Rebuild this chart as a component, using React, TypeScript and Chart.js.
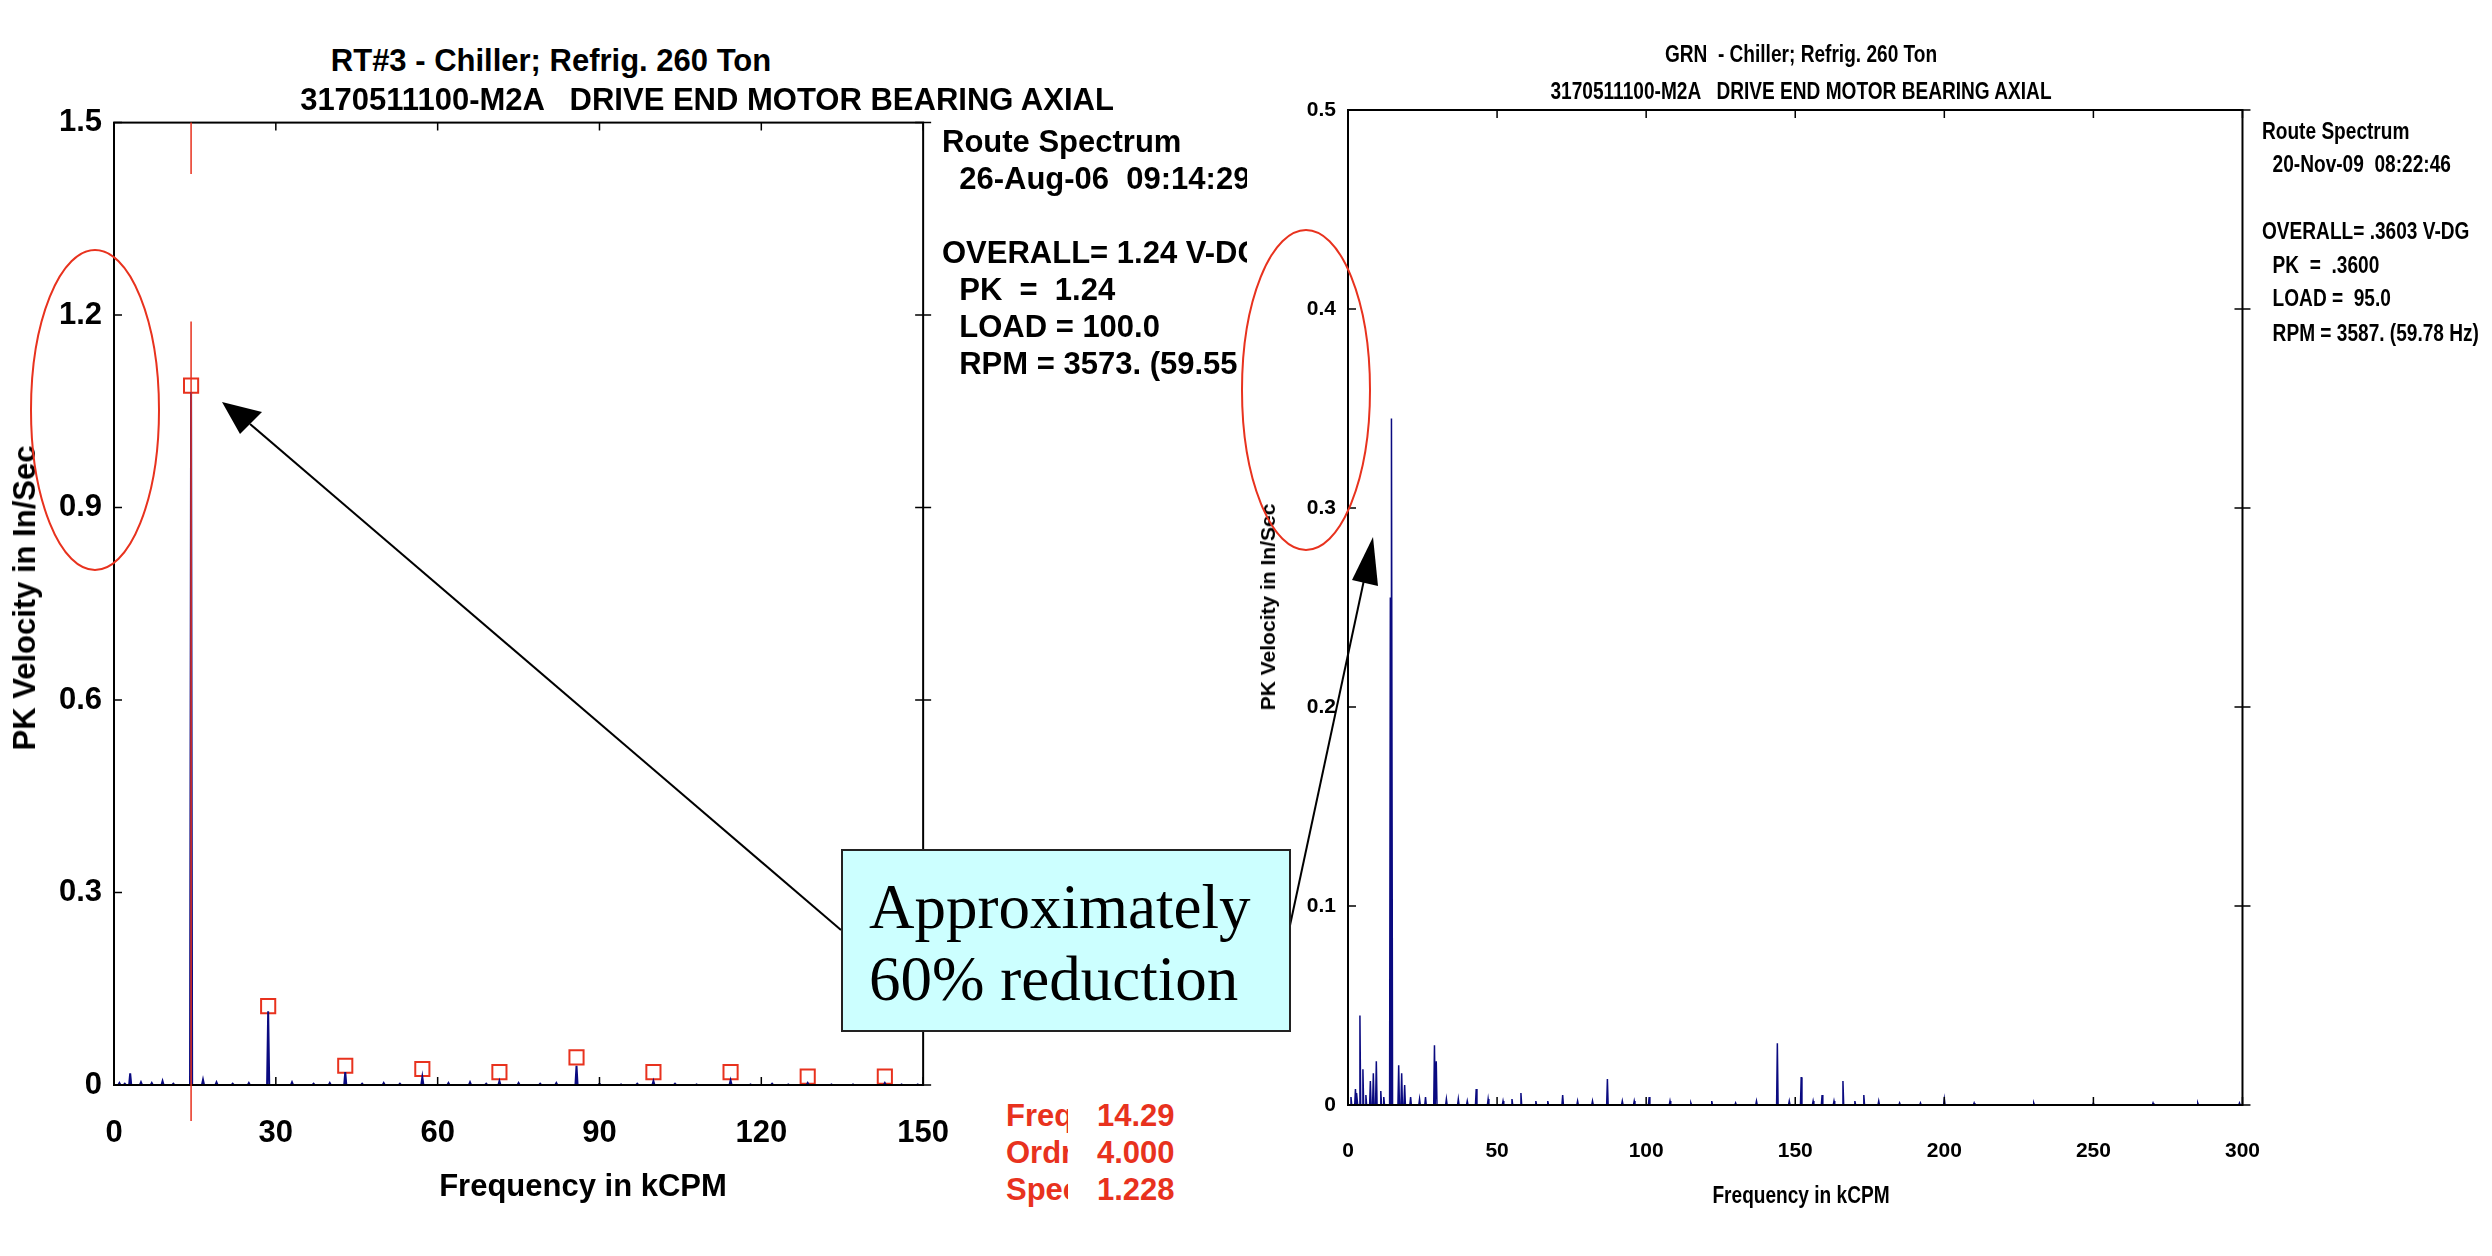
import React, { useEffect, useRef } from "react";
import { Chart, registerables } from "chart.js";
Chart.register(...registerables);

// Left chart (2006)
const leftSpikeFreq = [3.0, 14.29, 16.5, 28.58, 42.87, 57.16, 71.45, 85.74, 100.0, 114.3, 128.6, 142.9];
const leftSpikeAmp = [0.018, 1.08, 0.008, 0.115, 0.02, 0.012, 0.006, 0.03, 0.006, 0.007, 0.003, 0.003];
const leftNoiseFreq = [1, 2, 5, 7, 9, 11, 19, 22, 25, 33, 37, 40, 46, 50, 53, 62, 66, 69, 75, 79, 82, 90, 94, 97, 104, 108, 118, 122, 125, 133, 137, 146, 149];
const leftNoiseAmp = [0.003, 0.002, 0.004, 0.003, 0.006, 0.002, 0.004, 0.002, 0.003, 0.004, 0.002, 0.003, 0.002, 0.003, 0.002, 0.003, 0.004, 0.002, 0.003, 0.002, 0.003, 0.002, 0.001, 0.002, 0.002, 0.001, 0.001, 0.002, 0.001, 0.001, 0.001, 0.001, 0.001];
const leftMarkerFreq = [14.29, 28.58, 42.87, 57.16, 71.45, 85.74, 100.0, 114.3, 128.6, 142.9];
const leftMarkerAmp = [1.09, 0.123, 0.03, 0.025, 0.02, 0.043, 0.02, 0.02, 0.013, 0.013];
const leftYTicks = [0, 0.3, 0.6, 0.9, 1.2, 1.5];
const leftXTicks = [0, 30, 60, 90, 120, 150];

// Right chart (2009)
const rightSpikeFreq = [2.5, 4.0, 5.0, 7.5, 8.5, 9.5, 14.2, 14.7, 17.0, 18.0, 19.0, 29.0, 29.6, 43.0, 58.0, 72.0, 87.0, 101.0, 144.0, 152.0, 159.0, 166.0, 173.0, 200.0];
const rightSpikeAmp = [0.008, 0.045, 0.018, 0.012, 0.016, 0.022, 0.255, 0.345, 0.02, 0.016, 0.01, 0.03, 0.022, 0.008, 0.006, 0.005, 0.013, 0.004, 0.031, 0.014, 0.005, 0.012, 0.005, 0.003];
const rightNoiseFreq = [1, 3, 6, 11, 12, 21, 24, 26, 33, 37, 40, 47, 52, 55, 63, 67, 77, 82, 92, 96, 108, 115, 122, 130, 137, 148, 156, 163, 170, 178, 185, 192, 210, 230, 250, 270, 285, 299];
const rightNoiseAmp = [0.004, 0.006, 0.005, 0.007, 0.004, 0.004, 0.003, 0.004, 0.003, 0.003, 0.002, 0.003, 0.002, 0.003, 0.002, 0.002, 0.002, 0.002, 0.002, 0.002, 0.002, 0.001, 0.002, 0.001, 0.002, 0.002, 0.002, 0.002, 0.002, 0.002, 0.001, 0.001, 0.001, 0.001, 0.001, 0.001, 0.001, 0.001];
const rightYTicks = [0, 0.1, 0.2, 0.3, 0.4, 0.5];
const rightXTicks = [0, 50, 100, 150, 200, 250, 300];

function buildSpectrum(sf: number[], sa: number[], nf: number[], na: number[], w: number) {
  const pts: { x: number; y: number }[] = [];
  sf.forEach((f, i) => {
    pts.push({ x: f - w, y: 0 }, { x: f, y: sa[i] }, { x: f + w, y: 0 });
  });
  nf.forEach((f, i) => pts.push({ x: f - w, y: 0 }, { x: f, y: na[i] }, { x: f + w, y: 0 }));
  pts.push({ x: 0, y: 0 });
  pts.sort((a, b) => a.x - b.x);
  return pts;
}

const framePlugin = {
  id: "frame",
  afterDraw(chart: any, _a: any, opts: any) {
    const { ctx, chartArea: ca, scales } = chart;
    ctx.save();
    ctx.strokeStyle = "#000";
    ctx.lineWidth = opts.lw || 2;
    ctx.strokeRect(ca.left, ca.top, ca.right - ca.left, ca.bottom - ca.top);
    const L = opts.tick || 8;
    ctx.lineWidth = 1.5;
    ctx.beginPath();
    (opts.xt as number[]).forEach((v) => {
      const x = scales.x.getPixelForValue(v);
      ctx.moveTo(x, ca.top); ctx.lineTo(x, ca.top + L);
      ctx.moveTo(x, ca.bottom); ctx.lineTo(x, ca.bottom - L);
    });
    (opts.yt as number[]).forEach((v) => {
      const y = scales.y.getPixelForValue(v);
      ctx.moveTo(ca.left, y); ctx.lineTo(ca.left + L, y);
      ctx.moveTo(ca.right - L, y); ctx.lineTo(ca.right + L, y);
    });
    ctx.stroke();
    if (opts.cursor !== undefined) {
      const x = scales.x.getPixelForValue(opts.cursor);
      ctx.strokeStyle = "#e8321e";
      ctx.lineWidth = 1.5;
      ctx.beginPath();
      ctx.moveTo(x, ca.top); ctx.lineTo(x, scales.y.getPixelForValue(1.42));
      ctx.moveTo(x, scales.y.getPixelForValue(1.19)); ctx.lineTo(x, ca.bottom + 36);
      ctx.stroke();
    }
    ctx.restore();
  },
};

function makeChart(canvas: HTMLCanvasElement, cfg: any) {
  const font = cfg.font;
  return new Chart(canvas, {
    type: "line",
    data: { datasets: cfg.datasets },
    plugins: [framePlugin],
    options: {
      animation: false,
      responsive: false,
      maintainAspectRatio: false,
      layout: { padding: { top: cfg.padTop, right: cfg.padRight, left: 0, bottom: 0 } },
      plugins: {
        legend: { display: false },
        tooltip: { enabled: false },
        frame: { xt: cfg.xt, yt: cfg.yt, cursor: cfg.cursor, lw: cfg.lw },
      } as any,
      scales: {
        x: {
          type: "linear", min: cfg.xt[0], max: cfg.xt[cfg.xt.length - 1],
          afterBuildTicks: (s: any) => { s.ticks = cfg.xt.map((v: number) => ({ value: v })); },
          afterFit: (s: any) => { s.height = cfg.xh; },
          grid: { display: false }, border: { display: false },
          ticks: { color: "#000", font, padding: cfg.xpad, maxRotation: 0, autoSkip: false },
        },
        y: {
          type: "linear", min: cfg.yt[0], max: cfg.yt[cfg.yt.length - 1],
          afterBuildTicks: (s: any) => { s.ticks = cfg.yt.map((v: number) => ({ value: v })); },
          afterFit: (s: any) => { s.width = cfg.yw; },
          grid: { display: false }, border: { display: false },
          ticks: { color: "#000", font, padding: 4, autoSkip: false },
        },
      },
    } as any,
  });
}

const abs = (s: React.CSSProperties): React.CSSProperties => ({ position: "absolute", whiteSpace: "pre", margin: 0, ...s });

export default function App() {
  const lRef = useRef<HTMLCanvasElement>(null);
  const rRef = useRef<HTMLCanvasElement>(null);
  useEffect(() => {
    const lc = makeChart(lRef.current!, {
      datasets: [
        { data: buildSpectrum(leftSpikeFreq, leftSpikeAmp, leftNoiseFreq, leftNoiseAmp, 0.2), borderColor: "#0a0a80", borderWidth: 2, pointRadius: 0, tension: 0 },
        { data: leftMarkerFreq.map((f, i) => ({ x: f, y: leftMarkerAmp[i] })), showLine: false, pointStyle: "rect", pointRadius: 10, borderColor: "#e8321e", backgroundColor: "#fff", borderWidth: 2 },
      ],
      xt: leftXTicks, yt: leftYTicks, cursor: 14.29,
      font: { family: "Liberation Sans, Arial", weight: "bold", size: 31 },
      padTop: 22, padRight: 18, yw: 114, xh: 115, xpad: 22, lw: 2,
    });
    const rc = makeChart(rRef.current!, {
      datasets: [
        { data: buildSpectrum(rightSpikeFreq, rightSpikeAmp, rightNoiseFreq, rightNoiseAmp, 0.25), borderColor: "#0a0a80", borderWidth: 1.5, pointRadius: 0, tension: 0 },
      ],
      xt: rightXTicks, yt: rightYTicks,
      font: { family: "Liberation Sans, Arial", weight: "bold", size: 21 },
      padTop: 50, padRight: 12, yw: 108, xh: 85, xpad: 26, lw: 2,
    });
    return () => { lc.destroy(); rc.destroy(); };
  }, []);

  const bold30: React.CSSProperties = { fontFamily: "Liberation Sans, Arial", fontWeight: "bold", fontSize: 31, color: "#000" };
  const nar: React.CSSProperties = { fontFamily: "Liberation Sans, Arial", fontWeight: "bold", fontSize: 23, color: "#000" };
  const red: React.CSSProperties = { ...bold30, color: "#e8321e" };
  const sq = "scaleX(0.83)";

  return (
    <div style={{ position: "absolute", left: 0, top: 0, width: 2492, height: 1256, background: "#fff", overflow: "hidden" }}>
      <canvas ref={lRef} width={971} height={1100} style={{ position: "absolute", left: 0, top: 100, width: 971, height: 1100 }} />
      <canvas ref={rRef} width={1046} height={1130} style={{ position: "absolute", left: 1240, top: 60, width: 1046, height: 1130 }} />

      {/* Left texts */}
      <div style={abs({ ...bold30, left: 551, top: 61, transform: "translate(-50%,-50%)" })}>RT#3 - Chiller; Refrig. 260 Ton</div>
      <div style={abs({ ...bold30, left: 707, top: 100, transform: "translate(-50%,-50%)" })}>3170511100-M2A   DRIVE END MOTOR BEARING AXIAL</div>
      <div style={abs({ ...bold30, left: 583, top: 1186, transform: "translate(-50%,-50%)" })}>Frequency in kCPM</div>
      <div style={abs({ ...bold30, left: 25, top: 598, transform: "translate(-50%,-50%) rotate(-90deg)" })}>PK Velocity in In/Sec</div>
      <div style={{ position: "absolute", left: 942, top: 124, width: 305, height: 400, overflow: "hidden" }}>
        {[
          ["Route Spectrum", 0],
          ["  26-Aug-06  09:14:29", 37],
          ["OVERALL= 1.24 V-DG", 111],
          ["  PK  =  1.24", 148],
          ["  LOAD = 100.0", 185],
          ["  RPM = 3573. (59.55 Hz)", 222],
        ].map(([t, y], i) => (
          <div key={i} style={abs({ ...bold30, left: 0, top: y as number, lineHeight: "36px" })}>{t}</div>
        ))}
      </div>
      {[["Freq", "14.29", 1116], ["Ordr", "4.000", 1153], ["Spec", "1.228", 1190]].map(([a, b, y], i) => (
        <React.Fragment key={i}>
          <div style={{ position: "absolute", left: 1006, top: (y as number) - 18, width: 62, height: 38, overflow: "hidden" }}>
            <div style={abs({ ...red, left: 0, top: 0, lineHeight: "36px" })}>{a}</div>
          </div>
          <div style={abs({ ...red, left: 1097, top: (y as number) - 18, lineHeight: "36px" })}>{b}</div>
        </React.Fragment>
      ))}

      {/* Right texts */}
      <div style={abs({ ...nar, left: 1801, top: 54, transform: "translate(-50%,-50%) " + sq })}>GRN  - Chiller; Refrig. 260 Ton</div>
      <div style={abs({ ...nar, left: 1801, top: 91, transform: "translate(-50%,-50%) " + sq })}>3170511100-M2A   DRIVE END MOTOR BEARING AXIAL</div>
      <div style={abs({ ...nar, left: 1801, top: 1195, transform: "translate(-50%,-50%) " + sq })}>Frequency in kCPM</div>
      <div style={abs({ ...nar, fontSize: 21, left: 1268, top: 607, transform: "translate(-50%,-50%) rotate(-90deg)" })}>PK Velocity in In/Sec</div>
      {[
        ["Route Spectrum", 131],
        ["  20-Nov-09  08:22:46", 164],
        ["OVERALL= .3603 V-DG", 231],
        ["  PK  =  .3600", 265],
        ["  LOAD =  95.0", 298],
        ["  RPM = 3587. (59.78 Hz)", 333],
      ].map(([t, y], i) => (
        <div key={i} style={abs({ ...nar, left: 2262, top: (y as number) - 14, lineHeight: "28px", transform: sq, transformOrigin: "left center" })}>{t}</div>
      ))}

      {/* Annotations */}
      <svg width={2492} height={1256} style={{ position: "absolute", left: 0, top: 0, pointerEvents: "none" }}>
        <ellipse cx={95} cy={410} rx={64} ry={160} fill="none" stroke="#e8321e" strokeWidth={2} />
        <ellipse cx={1306} cy={390} rx={64} ry={160} fill="none" stroke="#e8321e" strokeWidth={2} />
        <line x1={841} y1={930} x2={250} y2={424} stroke="#000" strokeWidth={2} />
        <polygon points="222,402 262,412 240,434" fill="#000" />
        <line x1={1289} y1={930} x2={1364} y2={580} stroke="#000" strokeWidth={2} />
        <polygon points="1373,537 1378,586 1352,580" fill="#000" />
      </svg>
      <div style={{ position: "absolute", left: 841, top: 849, width: 446, height: 179, background: "#ccffff", border: "2px solid #222" }}>
        <div style={abs({ fontFamily: "Liberation Serif, Times New Roman, serif", fontSize: 63, left: 26, top: 20, lineHeight: "72px", color: "#000" })}>{"Approximately\n60% reduction"}</div>
      </div>
    </div>
  );
}
